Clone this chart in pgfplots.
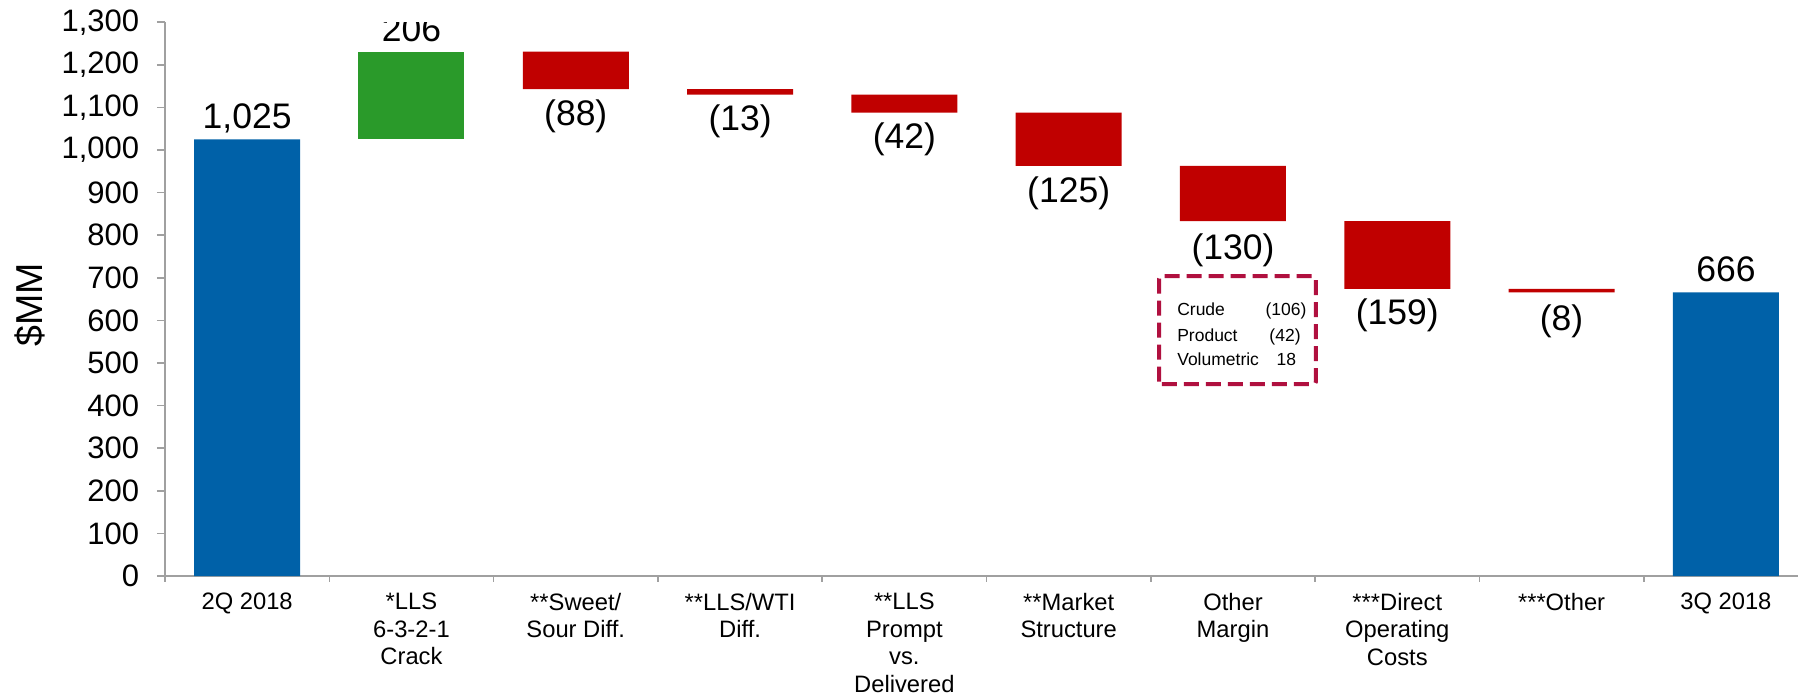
\documentclass[border=0pt]{standalone}
\usepackage{pgfplots}
\pgfplotsset{compat=1.18}
\usepackage{fontspec}
\setmainfont{Liberation Sans}
\definecolor{barblue}{HTML}{0061A8}
\definecolor{bargreen}{HTML}{2A9A2A}
\definecolor{barred}{HTML}{C00000}
\definecolor{boxred}{HTML}{B0103F}
\definecolor{axgray}{HTML}{A0A0A0}
\begin{document}
\begin{tikzpicture}
\begin{axis}[
  scale only axis, width=653.2pt, height=221.5pt,
  xmin=-0.5, xmax=9.439, ymin=0, ymax=1300,
  ybar stacked, bar width=42.4pt,
  axis lines*=left,
  axis line style={axgray, line width=0.6pt},
  tick align=outside,
  major tick length=3.2pt, minor tick length=2.3pt,
  ytick={0,100,...,1300},
  xtick={0,...,9},
  minor xtick={-0.5,0.5,...,8.5},
  major x tick style={draw=none},
  minor x tick style={axgray, line width=0.6pt},
  ytick style={axgray, line width=0.6pt},
  xticklabels={2Q 2018,{*LLS\\6-3-2-1\\Crack},{**Sweet/\\Sour Diff.},{**LLS/WTI\\Diff.},{**LLS\\Prompt\\vs.\\Delivered},{**Market\\Structure},{Other\\Margin},{***Direct\\Operating\\Costs},***Other,3Q 2018},
  xticklabel style={font=\fontsize{9.5}{11.1}\selectfont, align=center, text=black},
  yticklabel style={font=\fontsize{12.4}{14}\selectfont, xshift=-3.6pt, text=black},
  /pgf/number format/assume math mode=true,
  /pgf/number format/1000 sep={,},
  ylabel={\$MM},
  ylabel style={font=\fontsize{15}{17}\selectfont, at={(axis description cs:-0.0827,0.49)}, anchor=center},
]
\addplot[draw=none, fill=none] coordinates {(0,0) (1,1025) (2,1143) (3,1130) (4,1088) (5,963) (6,833) (7,674) (8,666) (9,0)};
\addplot[draw=none, fill=barblue] coordinates {(0,1025) (1,0) (2,0) (3,0) (4,0) (5,0) (6,0) (7,0) (8,0) (9,666)};
\addplot[draw=none, fill=bargreen] coordinates {(0,0) (1,206) (2,0) (3,0) (4,0) (5,0) (6,0) (7,0) (8,0) (9,0)};
\addplot[draw=none, fill=barred] coordinates {(0,0) (1,0) (2,88) (3,13) (4,42) (5,125) (6,130) (7,159) (8,8) (9,0)};

\tikzset{vlab/.style={font=\fontsize{14.2}{16}\selectfont, anchor=base, inner sep=0pt}}
\node[vlab, yshift=4.4pt] at (axis cs:0,1025) {1,025};
\node[vlab, yshift=4pt] at (axis cs:1,1231) {206};
\node[vlab, yshift=4.2pt] at (axis cs:9,666) {666};
\node[vlab, yshift=-14.4pt] at (axis cs:2,1143) {(88)};
\node[vlab, yshift=-14.4pt] at (axis cs:3,1130) {(13)};
\node[vlab, yshift=-14.4pt] at (axis cs:4,1088) {(42)};
\node[vlab, yshift=-14.8pt] at (axis cs:5,963) {(125)};
\node[vlab, yshift=-15.2pt] at (axis cs:6,833) {(130)};
\node[vlab, yshift=-14.4pt] at (axis cs:7,674) {(159)};
\node[vlab, yshift=-15.2pt] at (axis cs:8,666) {(8)};

\draw[boxred, line width=1.6pt, dash pattern=on 6pt off 2.8pt, rounded corners=1pt] (axis cs:5.55,450.5) rectangle (axis cs:6.505,704);
\tikzset{ilab/.style={font=\fontsize{7}{8.5}\selectfont, anchor=base west, inner sep=0pt}}
\node[ilab] at (axis cs:5.658,612.4) {Crude};
\node[ilab] at (axis cs:5.658,551.4) {Product};
\node[ilab] at (axis cs:5.658,495.1) {Volumetric};
\node[ilab] at (axis cs:6.195,612.4) {(106)};
\node[ilab] at (axis cs:6.219,551.4) {(42)};
\node[ilab] at (axis cs:6.262,495.1) {18};
\end{axis}
\pgfresetboundingbox
\path[use as bounding box] (-66pt,-48pt) rectangle (653.2pt,230.4pt);
\end{tikzpicture}
\end{document}
